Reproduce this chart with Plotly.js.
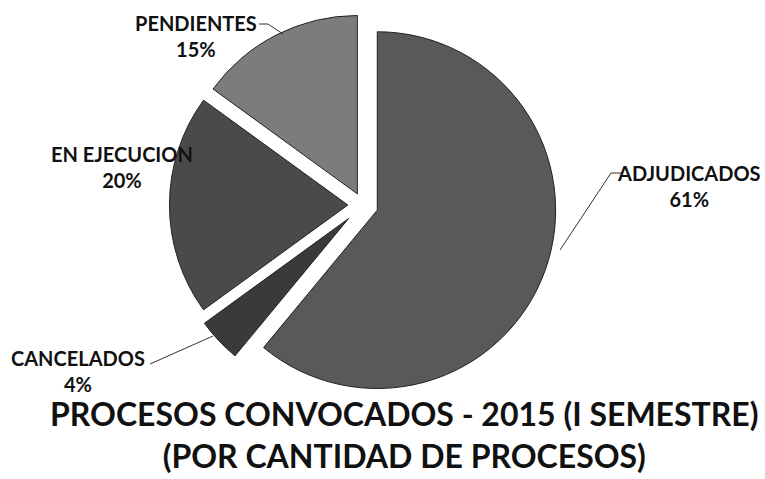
<!DOCTYPE html>
<html>
<head>
<meta charset="utf-8">
<script src="https://cdn.plot.ly/plotly-3.0.1.min.js"></script>
<style>html,body{margin:0;padding:0;background:#fff;}#chart{width:765px;height:479px;}</style>
</head>
<body>
<div id="chart"></div>
<script>
// Data
const categories = ["ADJUDICADOS", "CANCELADOS", "EN EJECUCION", "PENDIENTES"];
const shares = [61, 4, 20, 15];
const titleLines = ["PROCESOS CONVOCADOS - 2015 (I SEMESTRE)", "(POR CANTIDAD DE PROCESOS)"];

const sliceColors = ["#595959", "#3a3a3a", "#4a4a4a", "#7c7c7c"];
const pulls = [0.085, 0.11, 0.085, 0.07];

const total = shares.reduce((a, b) => a + b, 0);
const pct = shares.map(v => Math.round(v / total * 100) + "%");

// label placement (paper coords)
const labelPos = [
  {x: 689 / 765, y: 1 - 186 / 479},
  {x: 78 / 765, y: 1 - 371 / 479},
  {x: 122 / 765, y: 1 - 167 / 479},
  {x: 196 / 765, y: 1 - 36 / 479}
];

const labelFont = {family: "Lato, 'Open Sans', sans-serif", size: 20, color: "#111"};
const annotations = categories.map((c, i) => ({
  xref: "paper", yref: "paper",
  x: labelPos[i].x, y: labelPos[i].y,
  xanchor: "center", yanchor: "middle",
  text: "<b>" + c + "</b><br><b>" + pct[i] + "</b>",
  showarrow: false,
  align: "center",
  font: labelFont
}));
annotations.push({
  xref: "paper", yref: "paper",
  x: 404 / 765, y: 1 - 434 / 479,
  xanchor: "center", yanchor: "middle",
  text: "<b>" + titleLines.join("</b><br><b>") + "</b>",
  showarrow: false,
  align: "center",
  font: {family: "Lato, 'Open Sans', sans-serif", size: 32, color: "#111"}
});

const px = (x) => x / 765, py = (y) => 1 - y / 479;
const lineStyle = {color: "#333", width: 1};
const shapes = [
  {type: "path", xref: "paper", yref: "paper", path: `M ${px(611)} ${py(173)} L ${px(622)} ${py(173)}`, line: lineStyle},
  {type: "path", xref: "paper", yref: "paper", path: `M ${px(611)} ${py(173)} L ${px(560)} ${py(250)}`, line: lineStyle},
  {type: "path", xref: "paper", yref: "paper", path: `M ${px(150)} ${py(364)} L ${px(213)} ${py(336)}`, line: lineStyle},
  {type: "path", xref: "paper", yref: "paper", path: `M ${px(259)} ${py(24)} L ${px(268)} ${py(24)} L ${px(283)} ${py(34)}`, line: lineStyle}
];

const trace = {
  type: "pie",
  labels: categories,
  values: shares,
  sort: false,
  direction: "clockwise",
  rotation: 0,
  pull: pulls,
  textinfo: "none",
  hoverinfo: "label+percent",
  marker: {colors: sliceColors, line: {color: "#222", width: 1}},
  showlegend: false,
  domain: {x: [165 / 765, 561 / 765], y: [76 / 479, 472 / 479]}
};

const layout = {
  width: 765, height: 479,
  margin: {l: 0, r: 0, t: 0, b: 0},
  paper_bgcolor: "#fff",
  plot_bgcolor: "#fff",
  showlegend: false,
  annotations: annotations,
  shapes: shapes
};

Plotly.newPlot("chart", [trace], layout, {displayModeBar: false, staticPlot: true});
</script>
</body>
</html>
